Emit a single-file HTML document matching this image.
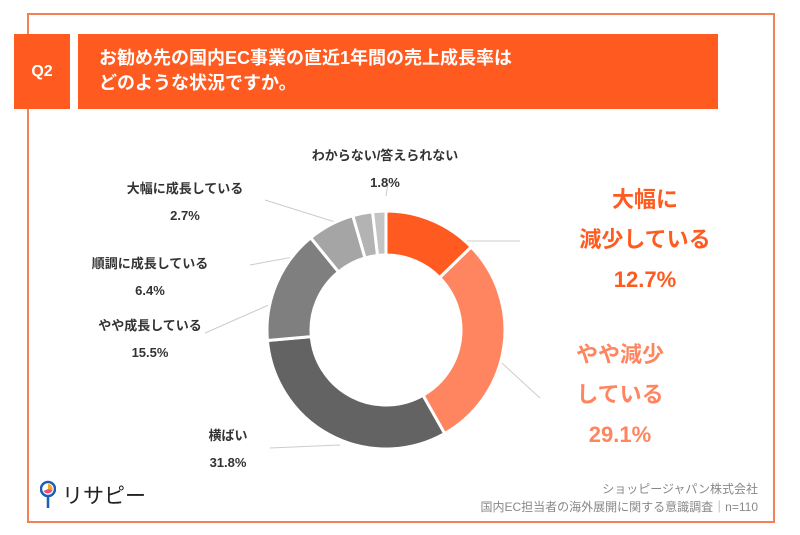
<!DOCTYPE html>
<html><head><meta charset="utf-8"><style>
body{margin:0;width:800px;height:535px;background:#fff;font-family:"Liberation Sans","Noto Sans CJK JP",sans-serif;position:relative;overflow:hidden}
.a{position:absolute}
.lbl{position:absolute;font-size:13px;font-weight:bold;color:#333;line-height:27px;text-align:center}
.big{position:absolute;font-size:22px;font-weight:bold;line-height:40px;text-align:center}
</style></head><body>
<div class="a" style="left:27px;top:13px;width:744px;height:506px;border:2px solid #F28254"></div>
<div class="a" style="left:14px;top:34px;width:56px;height:75px;background:#FF5A1F;color:#fff;font-weight:bold;font-size:16px;line-height:75px;text-align:center">Q2</div>
<div class="a" style="left:78px;top:34px;width:640px;height:75px;background:#FF5A1F;color:#fff;font-weight:bold;font-size:18px;line-height:25px;box-sizing:border-box;padding:12px 0 0 21px">お勧め先の国内EC事業の直近1年間の売上成長率は<br>どのような状況ですか。</div>
<svg class="a" style="left:0;top:0" width="800" height="535">
<g id="lines" stroke="#ccc" stroke-width="1" fill="none">
<path d="M424 241 L520 241"/><path d="M480 343 L540 398"/>
<path d="M340 445 L270 448"/><path d="M296 293 L205 333"/>
<path d="M315 253 L250 265"/><path d="M335 222 L265 200"/><path d="M386 196 L388 183"/>
</g>
<g id="slices"></g>
</svg>
<div class="lbl" style="left:290px;top:142px;width:190px">わからない/答えられない<br>1.8%</div>
<div class="lbl" style="left:120px;top:175px;width:130px">大幅に成長している<br>2.7%</div>
<div class="lbl" style="left:85px;top:250px;width:130px">順調に成長している<br>6.4%</div>
<div class="lbl" style="left:85px;top:312px;width:130px">やや成長している<br>15.5%</div>
<div class="lbl" style="left:198px;top:422px;width:60px">横ばい<br>31.8%</div>
<div class="big" style="left:560px;top:180px;width:170px;color:#FF5A1F">大幅に<br>減少している<br>12.7%</div>
<div class="big" style="left:555px;top:335px;width:130px;color:#FF8560">やや減少<br>している<br>29.1%</div>
<div class="a" style="right:42px;top:480px;font-size:12px;color:#888;text-align:right;line-height:18px">ショッピージャパン株式会社<br>国内EC担当者の海外展開に関する意識調査｜n=110</div>
<div class="a" style="left:40px;top:480px;height:30px">
<svg width="16" height="30" style="position:absolute;left:0;top:0"><circle cx="8" cy="9" r="7" fill="#fff" stroke="#1a5fb4" stroke-width="2.5"/><path d="M8 9 L8 4 A5 5 0 0 1 12.5 10 Z" fill="#f5a623"/><path d="M8 9 L12.5 10 A5 5 0 0 1 3.5 11 Z" fill="#e94e77"/><line x1="8" y1="16" x2="8" y2="28" stroke="#1a5fb4" stroke-width="2.5"/></svg>
<span style="position:absolute;left:22px;top:0;font-size:21px;color:#222;white-space:nowrap">リサピー</span></div>
<script>
const categories=["大幅に減少している","やや減少している","横ばい","やや成長している","順調に成長している","大幅に成長している","わからない/答えられない"];
const values=[12.7,29.1,31.8,15.5,6.4,2.7,1.8];
const colors=["#FF5A1F","#FF8560","#636363","#7f7f7f","#a5a5a5","#b3b3b3","#c4c4c4"];
const cx=386,cy=330,R=119,r=75;
const g=document.getElementById('slices');
const tot=values.reduce((a,b)=>a+b,0);
let a0=0;
function pt(rad,ang){return [cx+rad*Math.sin(ang),cy-rad*Math.cos(ang)];}
values.forEach((v,i)=>{
 const a1=a0+v/tot*2*Math.PI;
 const [x1,y1]=pt(R,a0),[x2,y2]=pt(R,a1),[x3,y3]=pt(r,a1),[x4,y4]=pt(r,a0);
 const lg=(a1-a0)>Math.PI?1:0;
 const p=document.createElementNS('http://www.w3.org/2000/svg','path');
 p.setAttribute('d',`M${x1} ${y1} A${R} ${R} 0 ${lg} 1 ${x2} ${y2} L${x3} ${y3} A${r} ${r} 0 ${lg} 0 ${x4} ${y4} Z`);
 p.setAttribute('fill',colors[i]);p.setAttribute('stroke','#fff');p.setAttribute('stroke-width','3');
 
 
 g.appendChild(p);a0=a1;
});
</script>
</body></html>
